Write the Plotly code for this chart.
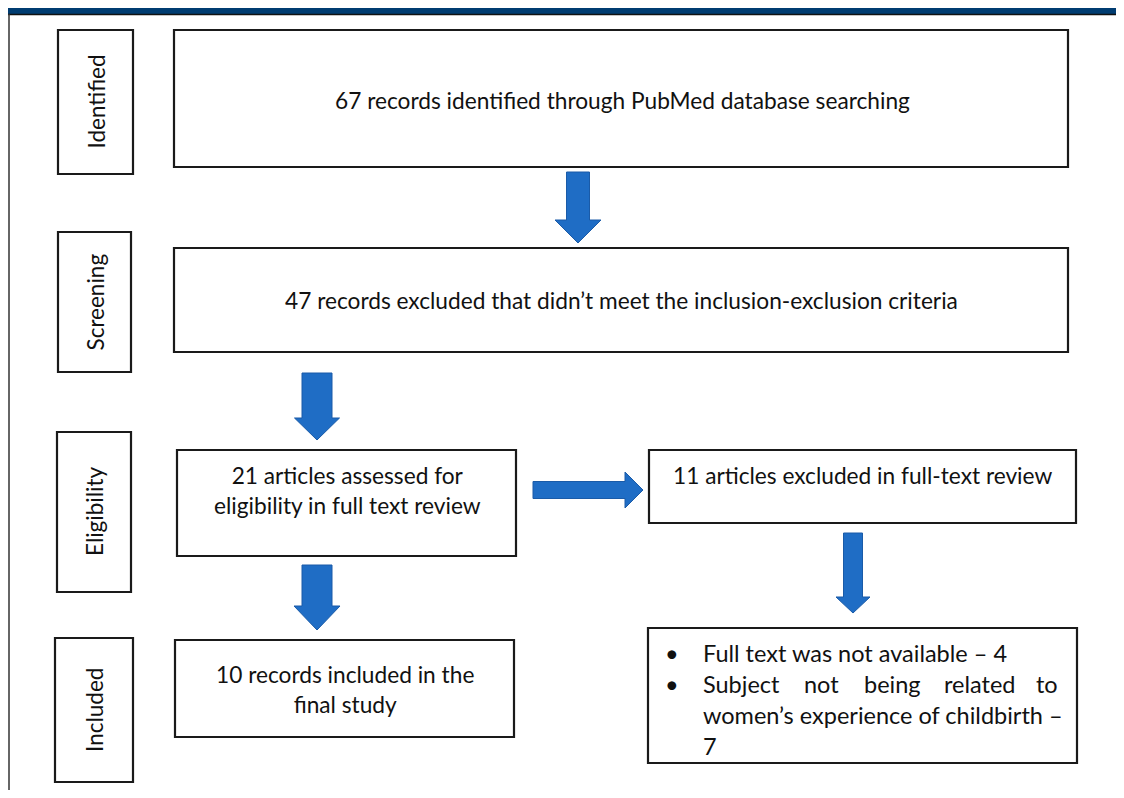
import plotly.graph_objects as go

# ---- content ----
stage_labels = ["Identified", "Screening", "Eligibility", "Included"]
box_texts = [
    "67 records identified through PubMed database searching",
    "47 records excluded that didn\u2019t meet the inclusion-exclusion criteria",
    "21 articles assessed for<br>eligibility in full text review",
    "11 articles excluded in full-text review",
    "10 records included in the<br>final study",
]
reason_1 = "Full text was not available \u2013 4"
reason_2_words = ["Subject", "not", "being", "related", "to"]
reason_2_rest = ["women\u2019s experience of childbirth \u2013", "7"]

# ---- geometry (page pixels, y downward) ----
PW, PH = 1124, 798
OFF = 8  # page body margin
W, H = PW - 2 * OFF, PH - 2 * OFF
FONT = "Lato"
TXT = "#111111"
stage_boxes = [(58, 30, 133, 174), (58, 232, 131, 372), (57, 432, 131, 592), (55, 638, 133, 782)]
main_boxes = [(174, 30, 1068, 167), (174, 248, 1068, 352), (177, 450, 516, 556),
              (649, 450, 1076, 523), (175, 640, 514, 737)]
text_pos = [(622, 100), (621, 300), (347, 490), (862, 475), (345, 689)]
reason_box = (648, 628, 1077, 763)

# down arrows: (cx, top, head_start, tip, shaft_w, head_w)
down_arrows = [(578, 172, 220, 243, 23, 46), (317, 373, 418, 440, 30, 45),
               (317, 565, 606, 630, 30, 46), (853, 533, 597, 613, 19, 34)]
# right arrow: (left, cy, head_start, tip, shaft_h, head_h)
right_arrows = [(533, 490, 625, 643, 17, 36)]

BLUE = "#1f6dc5"
BLUE_EDGE = "#1a5ba8"

fig = go.Figure()
shapes = []
annotations = []

# header band and left border
shapes.append(dict(type="rect", x0=0, y0=OFF, x1=PW, y1=OFF + 6, fillcolor="#003c71", line=dict(width=0)))
shapes.append(dict(type="line", x0=0, y0=OFF + 6.5, x1=PW, y1=OFF + 6.5, line=dict(color="#111", width=1.5)))
shapes.append(dict(type="line", x0=OFF + 1, y0=OFF + 6, x1=OFF + 1, y1=PH, line=dict(color="#333", width=1.5)))

for (x0, y0, x1, y1) in stage_boxes + main_boxes + [reason_box]:
    shapes.append(dict(type="rect", x0=x0, y0=y0, x1=x1, y1=y1,
                       line=dict(color="#1a1a1a", width=2.2), fillcolor="white"))

for (cx, top, hs, tip, sw, hw) in down_arrows:
    p = (f"M {cx - sw/2} {top} L {cx + sw/2} {top} L {cx + sw/2} {hs} L {cx + hw/2} {hs} "
         f"L {cx} {tip} L {cx - hw/2} {hs} L {cx - sw/2} {hs} Z")
    shapes.append(dict(type="path", path=p, fillcolor=BLUE, line=dict(color=BLUE_EDGE, width=1)))

for (left, cy, hs, tip, sh, hh) in right_arrows:
    p = (f"M {left} {cy - sh/2} L {hs} {cy - sh/2} L {hs} {cy - hh/2} L {tip} {cy} "
         f"L {hs} {cy + hh/2} L {hs} {cy + sh/2} L {left} {cy + sh/2} Z")
    shapes.append(dict(type="path", path=p, fillcolor=BLUE, line=dict(color=BLUE_EDGE, width=1)))

# stage labels (rotated)
for lab, (x0, y0, x1, y1) in zip(stage_labels, stage_boxes):
    annotations.append(dict(x=(x0 + x1) / 2, y=(y0 + y1) / 2, text=lab, textangle=-90,
                            showarrow=False, font=dict(family=FONT, size=22.5, color=TXT)))

# main box texts
for txt, (tx, ty) in zip(box_texts, text_pos):
    annotations.append(dict(x=tx, y=ty, text=txt, showarrow=False, align="center",
                            font=dict(family=FONT, size=22.7, color=TXT)))

# reasons (bulleted, justified)
RS = 23.5
bullet_x = 672
text_x = 701
line_y = [653, 684, 715, 746]
for yy in line_y[:2]:
    annotations.append(dict(x=bullet_x, y=yy, text="\u2022", showarrow=False,
                            font=dict(family=FONT, size=RS, color=TXT)))
annotations.append(dict(x=text_x, y=line_y[0], text=reason_1, showarrow=False, xanchor="left",
                        font=dict(family=FONT, size=RS, color=TXT)))
word_x = [701, 802, 862, 942, 1060]
word_anchor = ["left", "left", "left", "left", "right"]
for wtxt, wx, wa in zip(reason_2_words, word_x, word_anchor):
    annotations.append(dict(x=wx, y=line_y[1], text=wtxt, showarrow=False, xanchor=wa,
                            font=dict(family=FONT, size=RS, color=TXT)))
for wtxt, yy in zip(reason_2_rest, line_y[2:]):
    annotations.append(dict(x=text_x, y=yy, text=wtxt, showarrow=False, xanchor="left",
                            font=dict(family=FONT, size=RS, color=TXT)))

fig.update_layout(
    width=W, height=H, margin=dict(l=0, r=0, t=0, b=0),
    paper_bgcolor="white", plot_bgcolor="white",
    xaxis=dict(range=[OFF, OFF + W], visible=False, fixedrange=True),
    yaxis=dict(range=[OFF + H, OFF], visible=False, fixedrange=True),
    shapes=shapes, annotations=annotations, showlegend=False,
)
fig.write_html("out.html")
